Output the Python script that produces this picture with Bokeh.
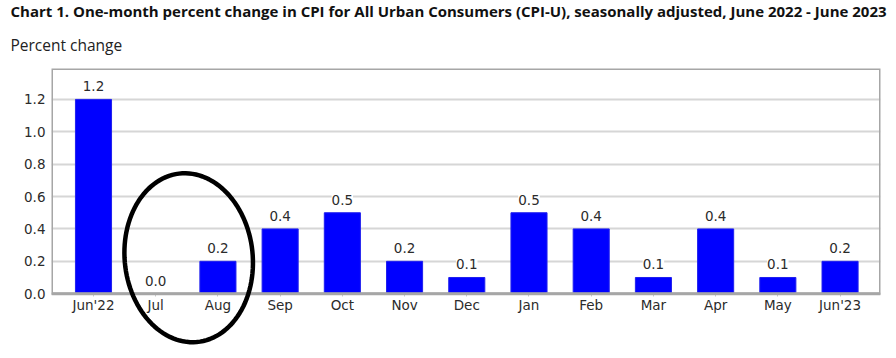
import numpy as np
from bokeh.plotting import figure
from bokeh.models import (ColumnDataSource, LabelSet, Range1d, FixedTicker, PolyAnnotation,
                          BoxAnnotation, Title, CustomJSTickFormatter)
from bokeh.core.properties import value
from bokeh.embed import file_html
from bokeh.resources import INLINE

months = ["Jun'22", "Jul", "Aug", "Sep", "Oct", "Nov", "Dec", "Jan", "Feb", "Mar", "Apr", "May", "Jun'23"]
values = [1.2, 0.0, 0.2, 0.4, 0.5, 0.2, 0.1, 0.5, 0.4, 0.1, 0.4, 0.1, 0.2]
y_ticks = [0.0, 0.2, 0.4, 0.6, 0.8, 1.0, 1.2]

title_text = "Chart 1. One-month percent change in CPI for All Urban Consumers (CPI-U), seasonally adjusted, June 2022 - June 2023"
subtitle_text = "Percent change"

idx = list(range(len(months)))
src = ColumnDataSource(dict(x=idx, v=values, lab=[f"{v:.1f}" for v in values]))

AX = "#a6a6a6"
TXT = "#2b2b2b"

p = figure(width=888, height=350, output_backend="svg", toolbar_location=None, title=None,
           x_range=Range1d(-0.675, 12.65), y_range=Range1d(-0.351, 1.391),
           min_border_left=51, min_border_right=8, min_border_top=0, min_border_bottom=0)
p.outline_line_color = None
p.background_fill_color = "white"
p.border_fill_color = "white"

p.vbar(x="x", top="v", width=0.58, bottom=0, source=src, fill_color="#0000ff", line_color="#2020ee", line_width=1)

labels = LabelSet(x="x", y="v", text="lab", source=src, text_align="center", text_baseline="bottom",
                  y_offset=8, text_font=value("DejaVu Sans"), text_font_size="13.5px", text_color=TXT,
                  background_fill_color="white")
p.add_layout(labels)

# plot box (bottom edge at zero)
p.add_layout(BoxAnnotation(bottom=0, fill_alpha=0, line_color=AX, line_width=3, line_alpha=1))

p.xgrid.grid_line_color = None
p.ygrid.grid_line_color = "#d6d6d6"
p.ygrid.grid_line_width = 2
p.ygrid.ticker = FixedTicker(ticks=y_ticks)

p.yaxis.ticker = FixedTicker(ticks=y_ticks)
p.yaxis.formatter = CustomJSTickFormatter(code="return tick.toFixed(1)")
p.yaxis.major_tick_line_color = None
p.yaxis.minor_tick_line_color = None
p.yaxis.major_tick_out = 0
p.yaxis.major_label_standoff = 6
p.yaxis.axis_line_color = None
p.yaxis.major_label_text_font = "DejaVu Sans"
p.yaxis.major_label_text_font_size = "13.5px"
p.yaxis.major_label_text_color = TXT

p.xaxis.fixed_location = 0
p.xaxis.ticker = FixedTicker(ticks=idx)
p.xaxis.major_label_overrides = {i: m for i, m in enumerate(months)}
p.xaxis.major_tick_out = 3
p.xaxis.major_tick_in = 0
p.xaxis.major_tick_line_color = "#c8c8c8"
p.xaxis.minor_tick_line_color = None
p.xaxis.major_label_standoff = 0
p.xaxis.axis_line_color = AX
p.xaxis.axis_line_width = 1.5
p.xaxis.major_label_text_font = "DejaVu Sans"
p.xaxis.major_label_text_font_size = "13.5px"
p.xaxis.major_label_text_color = TXT

# titles: first added is nearest the frame
p.add_layout(Title(text=subtitle_text, text_font="Open Sans", text_font_style="normal",
                   text_font_size="15.5px", text_color="#222222", align="left", offset=-41, standoff=25), "above")
p.add_layout(Title(text=title_text, text_font="Open Sans", text_font_style="bold",
                   text_font_size="15px", text_color="#111111", align="left", offset=-41, standoff=-3), "above")

# hand-drawn ellipse annotation around Jul/Aug
t = np.linspace(0, 2 * np.pi, 120)
ang = np.deg2rad(6)
ex = 64 * np.cos(t)
ey = 85 * np.sin(t)
rx = ex * np.cos(ang) - ey * np.sin(ang)
ry = ex * np.sin(ang) + ey * np.cos(ang)
cx_d, cy_d = 1.53, 0.222
xs = list(cx_d + rx / 62.2)
ys = list(cy_d + ry / 162.5)
p.add_layout(PolyAnnotation(xs=xs, ys=ys, fill_alpha=0, line_color="black", line_alpha=1, line_width=4.5))

open("out.html", "w").write(file_html(p, INLINE))
